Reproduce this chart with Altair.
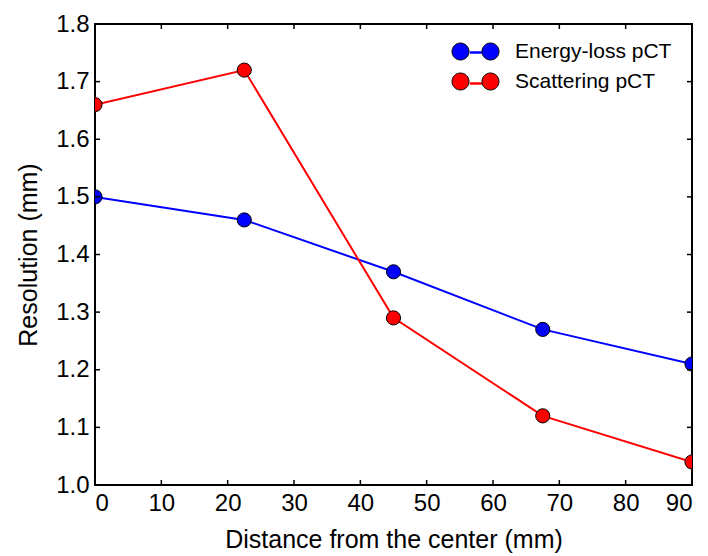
import altair as alt
import pandas as pd

distance = [0, 22.5, 45, 67.5, 90]
energy_loss = [1.50, 1.46, 1.37, 1.27, 1.21]
scattering = [1.66, 1.72, 1.29, 1.12, 1.04]
series_names = ["Energy-loss pCT", "Scattering pCT"]
series_colors = ["#0000ff", "#ff0000"]
x_ticks = [0, 10, 20, 30, 40, 50, 60, 70, 80, 90]
y_ticks = [1.0, 1.1, 1.2, 1.3, 1.4, 1.5, 1.6, 1.7, 1.8]

rows = []
for name, vals in zip(series_names, [energy_loss, scattering]):
    for d, v in zip(distance, vals):
        rows.append({"distance": d, "resolution": v, "series": name, "series_line": name})
df = pd.DataFrame(rows)
xt = pd.DataFrame({"v": x_ticks})
yt = pd.DataFrame({"v": y_ticks})

W, H = 597, 461
FONT = "Liberation Sans"
xscale = alt.Scale(domain=[0, 90], nice=False, zero=False)
yscale = alt.Scale(domain=[1.0, 1.8], nice=False, zero=False)

x_main = alt.Axis(orient="bottom", values=x_ticks, ticks=False, domain=False, grid=False,
                  labelFontSize=24, labelFont=FONT, labelColor="black", labelPadding=6,
                  title="Distance from the center (mm)", titleFontSize=25, titleFont=FONT,
                  titleFontWeight="normal", titleColor="black", titlePadding=12)
y_main = alt.Axis(orient="left", values=y_ticks, format=".1f", ticks=False, domain=False, grid=False,
                  labelFontSize=24, labelFont=FONT, labelColor="black", labelPadding=6,
                  title="Resolution (mm)", titleFontSize=25, titleFont=FONT,
                  titleFontWeight="normal", titleColor="black", titlePadding=14)

two_circles = ("M-1.305,0A0.472,0.472,0,1,0,-0.361,0A0.472,0.472,0,1,0,-1.305,0Z"
               "M0.361,0A0.472,0.472,0,1,0,1.305,0A0.472,0.472,0,1,0,0.361,0Z")
connector = "M-0.37,0L0.37,0"

LX, LY = 362, 9
leg_common = dict(title=None, orient="none", legendX=LX, legendY=LY, padding=0, symbolSize=1296,
                  labelFontSize=21, labelFont=FONT, labelOffset=21, rowPadding=1)

line = alt.Chart(df).mark_line(strokeWidth=2, clip=True).encode(
    x=alt.X("distance:Q", scale=xscale, axis=x_main),
    y=alt.Y("resolution:Q", scale=yscale, axis=y_main),
    stroke=alt.Stroke("series_line:N", scale=alt.Scale(range=series_colors),
                      legend=alt.Legend(symbolType=connector, symbolStrokeWidth=2.5,
                                        labelExpr="''", **leg_common)),
)

points = alt.Chart(df).mark_circle(size=200, stroke="black", strokeWidth=1, opacity=1, clip=True).encode(
    x=alt.X("distance:Q", scale=xscale),
    y=alt.Y("resolution:Q", scale=yscale),
    fill=alt.Fill("series:N", scale=alt.Scale(range=series_colors),
                  legend=alt.Legend(symbolType=two_circles, symbolStrokeColor="black",
                                    symbolStrokeWidth=1, symbolOpacity=1, labelColor="black",
                                    **leg_common)),
)

tick_mark = dict(size=10, thickness=1.5, color="black", clip=True, opacity=1)
xt_bottom = alt.Chart(xt).mark_tick(orient="vertical", **tick_mark).encode(
    x=alt.X("v:Q", scale=xscale), y=alt.YDatum(1.0))
xt_top = alt.Chart(xt).mark_tick(orient="vertical", **tick_mark).encode(
    x=alt.X("v:Q", scale=xscale), y=alt.YDatum(1.8))
yt_left = alt.Chart(yt).mark_tick(orient="horizontal", **tick_mark).encode(
    y=alt.Y("v:Q", scale=yscale), x=alt.XDatum(0))
yt_right = alt.Chart(yt).mark_tick(orient="horizontal", **tick_mark).encode(
    y=alt.Y("v:Q", scale=yscale), x=alt.XDatum(90))

chart = alt.layer(line, points, xt_bottom, xt_top, yt_left, yt_right).properties(
    width=W, height=H, padding={"left": 8, "top": 4, "right": 5, "bottom": 5},
    background="white",
).configure_view(stroke="black", strokeWidth=2)

chart.save("out.html", embed_options={"renderer": "svg", "actions": False})
